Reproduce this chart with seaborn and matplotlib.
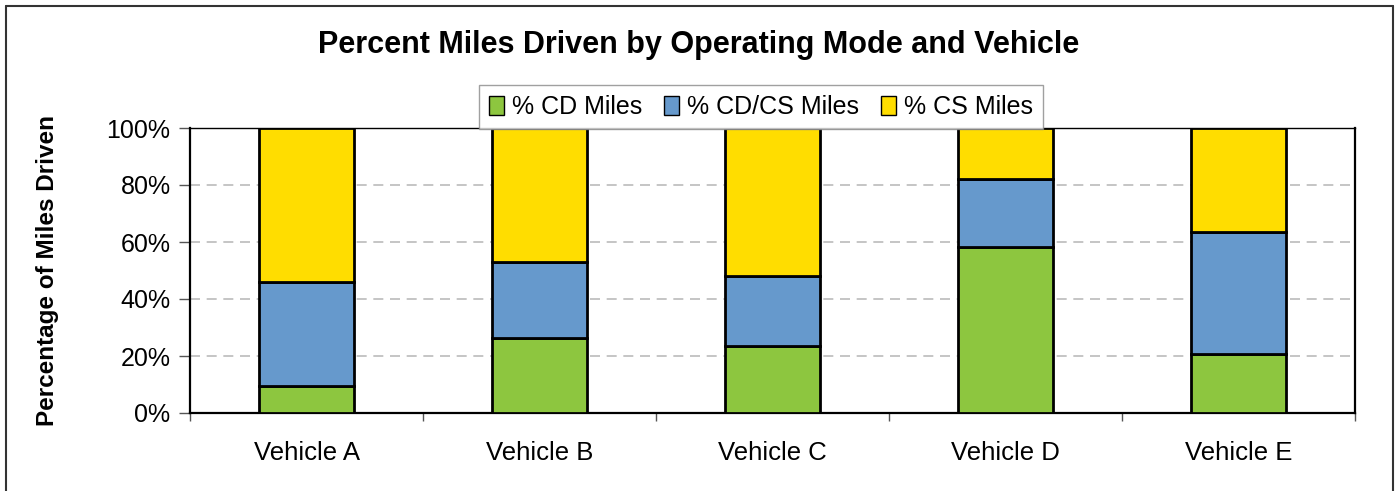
import matplotlib
matplotlib.use("Agg")
import matplotlib.pyplot as plt
import seaborn as sns
import numpy as np
import pandas as pd
from matplotlib.ticker import FixedLocator, PercentFormatter
from matplotlib.patches import Patch
from matplotlib.lines import Line2D

vehicles = ["Vehicle A", "Vehicle B", "Vehicle C", "Vehicle D", "Vehicle E"]
cd_miles = [9.6, 26.3, 23.4, 58.4, 20.7]
cdcs_miles = [36.3, 26.6, 24.6, 23.8, 42.7]
cs_miles = [54.1, 47.1, 52.0, 17.8, 36.6]
series_names = ["% CD Miles", "% CD/CS Miles", "% CS Miles"]
colors = ["#8DC63F", "#6699CC", "#FFDD00"]

sns.set_theme(style="white")
plt.rcParams['font.family'] = ['Liberation Sans', 'DejaVu Sans']
plt.rcParams['text.color'] = 'black'
plt.rcParams['axes.labelcolor'] = 'black'
plt.rcParams['xtick.color'] = 'black'
plt.rcParams['ytick.color'] = 'black'

fig = plt.figure(figsize=(13.98, 4.91), dpi=100)
ax = fig.add_axes([190/1398, 1-413/491, (1355-190)/1398, (413-128)/491])

df = pd.DataFrame({"vehicle": vehicles, "cd": cd_miles, "cdcs": cdcs_miles, "cs": cs_miles})
bottom = np.zeros(len(vehicles))
for col, name, c in zip(["cd", "cdcs", "cs"], series_names, colors):
    sns.barplot(data=df, x="vehicle", y=col, color=c, bottom=bottom, width=0.41,
                edgecolor="black", linewidth=2, saturation=1, ax=ax, zorder=3)
    bottom = bottom + df[col].values

ax.set_ylim(0, 100)
ax.set_xlim(-0.5, len(vehicles) - 0.5)
ax.yaxis.set_major_locator(FixedLocator([0, 20, 40, 60, 80, 100]))
ax.yaxis.set_major_formatter(PercentFormatter(decimals=0))
ax.grid(axis="y", color="#BBBBBB", linestyle=(0, (6, 4)), linewidth=1.2, zorder=0)
ax.grid(axis="x", visible=False)
ax.set_xlabel("")
ax.set_ylabel("Percentage of Miles Driven", fontsize=17.5, fontweight="bold", labelpad=34)

for s in ["top", "right", "left", "bottom"]:
    ax.spines[s].set_visible(True)
    ax.spines[s].set_color("black")
ax.spines["left"].set_linewidth(1.6)
ax.spines["bottom"].set_linewidth(1.6)
ax.spines["top"].set_linewidth(1.0)
ax.spines["right"].set_linewidth(1.6)

ax.tick_params(axis="y", which="major", length=8, width=1, color="#555555", direction="out",
               labelsize=18, labelcolor="black", pad=6, left=True)
ax.tick_params(axis="x", which="major", length=0, labelsize=18.5, labelcolor="black", pad=20)
ax.xaxis.set_minor_locator(FixedLocator(np.arange(-0.5, len(vehicles), 1.0)))
ax.tick_params(axis="x", which="minor", length=6, width=1, color="#555555", direction="out", bottom=True)

handles = [Patch(facecolor=c, edgecolor="black", linewidth=1) for c in colors]
leg = fig.legend(handles, series_names, loc="upper center", bbox_to_anchor=(761/1398, 1-85/491),
                 ncol=3, fontsize=18, frameon=True, fancybox=False, handlelength=0.6,
                 handleheight=0.8, handletextpad=0.3, columnspacing=0.9, borderpad=0.4,
                 borderaxespad=0)
leg.get_frame().set_edgecolor("#888888")
leg.get_frame().set_linewidth(1)
leg.set_zorder(10)

fig.text(0.5, 1-45/491, "Percent Miles Driven by Operating Mode and Vehicle",
         ha="center", va="center", fontsize=22, fontweight="bold")

border = dict(transform=fig.transFigure, color="#333333", linewidth=1.5)
fig.lines.append(Line2D([6/1398, 6/1398], [0, 1-6/491], **border))
fig.lines.append(Line2D([6/1398, 1393/1398], [1-6/491, 1-6/491], **border))
fig.lines.append(Line2D([1393/1398, 1393/1398], [0, 1-6/491], **border))

fig.savefig("out.png", dpi=100)
